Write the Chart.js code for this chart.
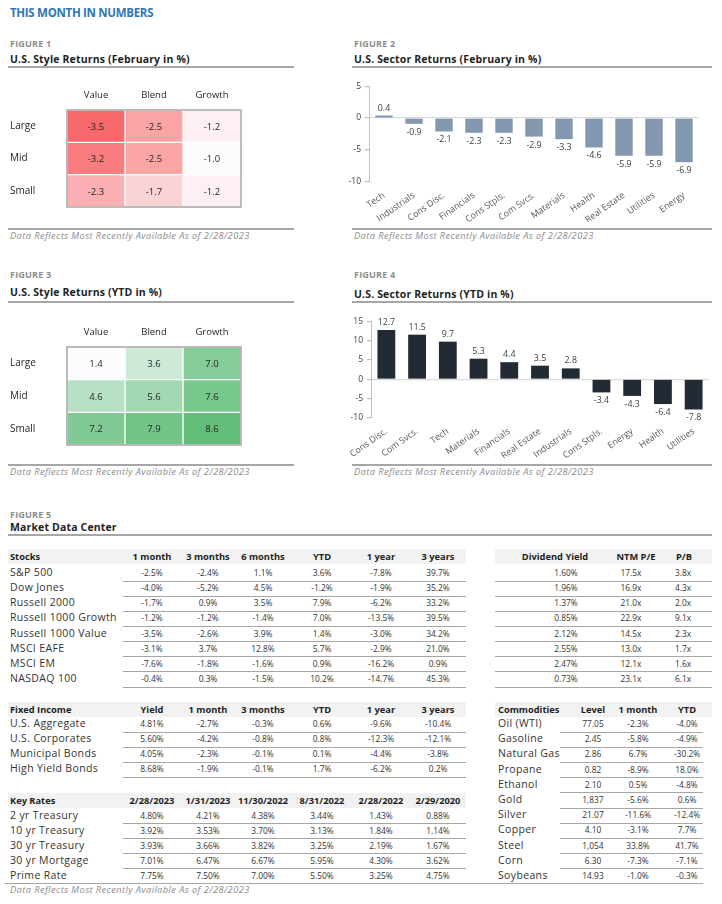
<!DOCTYPE html>
<html>
<head>
<meta charset="utf-8">
<script src="https://cdn.jsdelivr.net/npm/chart.js@4.4.0/dist/chart.umd.min.js"></script>
<style>
  body { margin:0; width:722px; height:904px; background:#fff; position:relative; overflow:hidden;
         font-family:'Open Sans', sans-serif; color:#262626; }
  .t { position:absolute; white-space:nowrap; height:20px; line-height:20px; }
  .hr { position:absolute; height:1px; background:#a6a6a6; }
  .band { position:absolute; background:#f2f2f2; }
  .main { color:#2f75b5; font-weight:700; font-size:11.5px; letter-spacing:-0.3px; }
  .fig { color:#8c8c8c; font-weight:700; font-size:9px; letter-spacing:0.2px; }
  .ttl { color:#1f1f1f; font-weight:700; font-size:10.5px; letter-spacing:0.15px; }
  .foot { color:#8c8c8c; font-style:italic; font-size:9.3px; letter-spacing:0.4px; }
  .lbl { font-size:10.5px; color:#333; letter-spacing:0.35px; }
  .num { font-size:8.4px; color:#333; }
  .hd { font-size:9.3px; font-weight:700; color:#1f1f1f; }
  canvas { position:absolute; }
</style>
</head>
<body>
<canvas id="fig1" style="left:5px;top:80px;width:245px;height:136px" width="245" height="136"></canvas>
<canvas id="fig2" style="left:345px;top:77px;width:360px;height:145px" width="360" height="145"></canvas>
<canvas id="fig3" style="left:5px;top:317px;width:245px;height:137px" width="245" height="137"></canvas>
<canvas id="fig4" style="left:345px;top:312px;width:370px;height:146px" width="370" height="146"></canvas>
<script>
// ── chart data ──
const styleRows = ['Large', 'Mid', 'Small'];
const styleCols = ['Value', 'Blend', 'Growth'];
const styleFeb = [[-3.5, -2.5, -1.2], [-3.2, -2.5, -1.0], [-2.3, -1.7, -1.2]];
const styleYtd = [[1.4, 3.6, 7.0], [4.6, 5.6, 7.6], [7.2, 7.9, 8.6]];

const sectorFebLabels = ['Tech', 'Industrials', 'Cons Disc.', 'Financials', 'Cons Stpls.', 'Com Svcs.',
                         'Materials', 'Health', 'Real Estate', 'Utilities', 'Energy'];
const sectorFebValues = [0.4, -0.9, -2.1, -2.3, -2.3, -2.9, -3.3, -4.6, -5.9, -5.9, -6.9];
const sectorYtdLabels = ['Cons Disc.', 'Com Svcs.', 'Tech', 'Materials', 'Financials', 'Real Estate',
                         'Industrials', 'Cons Stpls.', 'Energy', 'Health', 'Utilities'];
const sectorYtdValues = [12.7, 11.5, 9.7, 5.3, 4.4, 3.5, 2.8, -3.4, -4.3, -6.4, -7.8];

// ── table data ──
const stockCols = ['1 month', '3 months', '6 months', 'YTD', '1 year', '3 years'];
const stockNames = ['S&P 500', 'Dow Jones', 'Russell 2000', 'Russell 1000 Growth', 'Russell 1000 Value',
                    'MSCI EAFE', 'MSCI EM', 'NASDAQ 100'];
const stockRets = [
  ['-2.5%', '-2.4%', '1.1%', '3.6%', '-7.8%', '39.7%'],
  ['-4.0%', '-5.2%', '4.5%', '-1.2%', '-1.9%', '35.2%'],
  ['-1.7%', '0.9%', '3.5%', '7.9%', '-6.2%', '33.2%'],
  ['-1.2%', '-1.2%', '-1.4%', '7.0%', '-13.5%', '39.5%'],
  ['-3.5%', '-2.6%', '3.9%', '1.4%', '-3.0%', '34.2%'],
  ['-3.1%', '3.7%', '12.8%', '5.7%', '-2.9%', '21.0%'],
  ['-7.6%', '-1.8%', '-1.6%', '0.9%', '-16.2%', '0.9%'],
  ['-0.4%', '0.3%', '-1.5%', '10.2%', '-14.7%', '45.3%'],
];
const valCols = ['Dividend Yield', 'NTM P/E', 'P/B'];
const valData = [
  ['1.60%', '17.5x', '3.8x'], ['1.96%', '16.9x', '4.3x'], ['1.37%', '21.0x', '2.0x'], ['0.85%', '22.9x', '9.1x'],
  ['2.12%', '14.5x', '2.3x'], ['2.55%', '13.0x', '1.7x'], ['2.47%', '12.1x', '1.6x'], ['0.73%', '23.1x', '6.1x'],
];
const fiCols = ['Yield', '1 month', '3 months', 'YTD', '1 year', '3 years'];
const fiNames = ['U.S. Aggregate', 'U.S. Corporates', 'Municipal Bonds', 'High Yield Bonds'];
const fiData = [
  ['4.81%', '-2.7%', '-0.3%', '0.6%', '-9.6%', '-10.4%'],
  ['5.60%', '-4.2%', '-0.8%', '0.8%', '-12.3%', '-12.1%'],
  ['4.05%', '-2.3%', '-0.1%', '0.1%', '-4.4%', '-3.8%'],
  ['8.68%', '-1.9%', '-0.1%', '1.7%', '-6.2%', '0.2%'],
];
const rateCols = ['2/28/2023', '1/31/2023', '11/30/2022', '8/31/2022', '2/28/2022', '2/29/2020'];
const rateNames = ['2 yr Treasury', '10 yr Treasury', '30 yr Treasury', '30 yr Mortgage', 'Prime Rate'];
const rateData = [
  ['4.80%', '4.21%', '4.38%', '3.44%', '1.43%', '0.88%'],
  ['3.92%', '3.53%', '3.70%', '3.13%', '1.84%', '1.14%'],
  ['3.93%', '3.66%', '3.82%', '3.25%', '2.19%', '1.67%'],
  ['7.01%', '6.47%', '6.67%', '5.95%', '4.30%', '3.62%'],
  ['7.75%', '7.50%', '7.00%', '5.50%', '3.25%', '4.75%'],
];
const comCols = ['Level', '1 month', 'YTD'];
const comNames = ['Oil (WTI)', 'Gasoline', 'Natural Gas', 'Propane', 'Ethanol', 'Gold', 'Silver',
                  'Copper', 'Steel', 'Corn', 'Soybeans'];
const comData = [
  ['77.05', '-2.3%', '-4.0%'], ['2.45', '-5.8%', '-4.9%'], ['2.86', '6.7%', '-30.2%'], ['0.82', '-8.9%', '18.0%'],
  ['2.10', '0.5%', '-4.8%'], ['1,837', '-5.6%', '0.6%'], ['21.07', '-11.6%', '-12.4%'], ['4.10', '-3.1%', '7.7%'],
  ['1,054', '33.8%', '41.7%'], ['6.30', '-7.3%', '-7.1%'], ['14.93', '-1.0%', '-0.3%'],
];
const footNote = 'Data Reflects Most Recently Available As of 2/28/2023';

// ── html helpers ──
function txt(x, y, s, cls, align = 'left') {
  const d = document.createElement('div');
  d.className = 't ' + cls;
  d.textContent = s;
  d.style.top = (y - 10) + 'px';
  if (align === 'center') { d.style.left = (x - 100) + 'px'; d.style.width = '200px'; d.style.textAlign = 'center'; }
  else d.style.left = x + 'px';
  document.body.appendChild(d);
}
function line(x1, x2, y, h = 1) {
  const d = document.createElement('div');
  d.className = 'hr';
  Object.assign(d.style, { left: x1 + 'px', width: (x2 - x1) + 'px', top: y + 'px', height: h + 'px' });
  document.body.appendChild(d);
}
function band(x1, x2, y1, y2) {
  const d = document.createElement('div');
  d.className = 'band';
  Object.assign(d.style, { left: x1 + 'px', width: (x2 - x1) + 'px', top: y1 + 'px', height: (y2 - y1) + 'px' });
  document.body.appendChild(d);
}

// headings
txt(10, 13, 'THIS MONTH IN NUMBERS', 'main');
txt(10, 44, 'FIGURE 1', 'fig');
txt(10, 59, 'U.S. Style Returns (February in %)', 'ttl');
line(8, 294, 66, 1.5);
txt(354, 44, 'FIGURE 2', 'fig');
txt(354, 59, 'U.S. Sector Returns (February in %)', 'ttl');
line(352, 712, 66, 1.5);
line(8, 294, 228, 1.5); txt(10, 236, footNote, 'foot');
line(352, 712, 228, 1.5); txt(354, 236, footNote, 'foot');

txt(10, 275, 'FIGURE 3', 'fig');
txt(10, 292, 'U.S. Style Returns (YTD in %)', 'ttl');
line(8, 294, 301, 1.5);
txt(354, 275, 'FIGURE 4', 'fig');
txt(354, 294, 'U.S. Sector Returns (YTD in %)', 'ttl');
line(352, 712, 301, 1.5);
line(8, 294, 464, 1.5); txt(10, 472, footNote, 'foot');
line(352, 712, 464, 1.5); txt(354, 472, footNote, 'foot');

txt(10, 515, 'FIGURE 5', 'fig');
txt(10, 527, 'Market Data Center', 'ttl');
line(8, 712, 534, 1.5);

// tables
const leftX = [152, 208, 263, 322, 381, 438];
const ROW = 15.15;
function leftTable(title, cols, names, data, yHead, yFirst, lastFull) {
  band(8, 466, yHead - 8, yHead + 7);
  txt(10, yHead, title, 'hd');
  cols.forEach((c, i) => txt(leftX[i], yHead, c, 'hd', 'center'));
  names.forEach((n, r) => {
    const y = yFirst + r * ROW;
    txt(10, y, n, 'lbl');
    data[r].forEach((v, i) => txt(leftX[i], y + 1, v, 'num', 'center'));
    if (!(lastFull && r === names.length - 1)) line(123, 466, y + 8.5);
  });
}
leftTable('Stocks', stockCols, stockNames, stockRets, 557, 572, false);
leftTable('Fixed Income', fiCols, fiNames, fiData, 710, 723, false);
leftTable('Key Rates', rateCols, rateNames, rateData, 801, 814.5, true);
line(5, 703, 883);
txt(10, 890, footNote, 'foot');

// valuation table
band(495, 712, 549, 564);
const valHeadX = [555, 636, 684], valX = [566, 631, 683];
valCols.forEach((c, i) => txt(valHeadX[i], 557, c, 'hd', 'center'));
valData.forEach((row, r) => {
  const y = 572 + r * ROW;
  row.forEach((v, i) => txt(valX[i], y + 1, v, 'num', 'center'));
  line(495, 712, y + 8.5);
});

// commodities
band(495, 712, 702, 717);
txt(498, 710, 'Commodities', 'hd');
const comX = [593, 638, 687];
comCols.forEach((c, i) => txt(comX[i], 710, c, 'hd', 'center'));
comNames.forEach((n, r) => {
  const y = 723 + r * 15.2;
  txt(498, y, n, 'lbl');
  comData[r].forEach((v, i) => txt(comX[i], y + 1, v, 'num', 'center'));
  if (r < comNames.length - 1) line(560, 703, y + 8.5);
});

// ── charts ──
Chart.defaults.font.family = "'Open Sans', sans-serif";
Chart.defaults.color = '#404040';
Chart.defaults.animation = false;
Chart.defaults.responsive = false;

function mix(c1, c2, t) {
  const a = c1.match(/\w\w/g).map(h => parseInt(h, 16));
  const b = c2.match(/\w\w/g).map(h => parseInt(h, 16));
  return `rgb(${a.map((v, i) => Math.round(v + (b[i] - v) * t)).join(',')})`;
}

function heatmap(id, values, loColor, hiColor) {
  const flat = values.flat();
  const lo = Math.min(...flat), hi = Math.max(...flat);
  new Chart(document.getElementById(id), {
    type: 'bar',
    data: {
      labels: styleRows,
      datasets: styleCols.map((c, ci) => ({
        label: c,
        data: styleRows.map(() => [ci, ci + 1]),
        backgroundColor: styleRows.map((r, ri) => mix(loColor, hiColor, (values[ri][ci] - lo) / (hi - lo))),
        borderColor: '#ffffff',
        borderWidth: 1,
        borderSkipped: false,
        barPercentage: 1,
        categoryPercentage: 1,
        grouped: false,
      })),
    },
    options: {
      indexAxis: 'y',
      layout: { padding: { left: 5, top: 2, right: 9, bottom: 2 } },
      plugins: { legend: { display: false }, tooltip: { enabled: false } },
      scales: {
        x: { type: 'linear', min: 0, max: 3, display: false },
        x2: {
          type: 'category', labels: styleCols, position: 'top', offset: true,
          grid: { display: false, drawTicks: false }, border: { display: false },
          ticks: { padding: 9, color: '#262626', font: { size: 9.5 } },
          afterFit: s => { s.height = 28; },
        },
        y: {
          grid: { display: false, drawTicks: false }, border: { display: false },
          ticks: { crossAlign: 'far', color: '#262626', font: { size: 10 } },
          afterFit: s => { s.width = 57; },
        },
      },
    },
    plugins: [{
      id: 'cells',
      afterDatasetsDraw(chart) {
        const ctx = chart.ctx, a = chart.chartArea;
        ctx.save();
        ctx.font = "9.5px 'Open Sans'";
        ctx.fillStyle = '#262626';
        ctx.textAlign = 'center';
        ctx.textBaseline = 'middle';
        chart.data.datasets.forEach((ds, ci) => {
          chart.getDatasetMeta(ci).data.forEach((el, ri) => {
            const p = el.getCenterPoint();
            ctx.fillText(values[ri][ci].toFixed(1), p.x, p.y + 1);
          });
        });
        ctx.strokeStyle = '#a6a6a6';
        ctx.lineWidth = 1.5;
        ctx.strokeRect(a.left, a.top, a.right - a.left, a.bottom - a.top);
        ctx.restore();
      },
    }],
  });
}

function sectorChart(id, labels, values, color, min, max, yWidth, padTop) {
  new Chart(document.getElementById(id), {
    type: 'bar',
    data: { labels, datasets: [{ data: values, backgroundColor: color, barPercentage: 0.58, categoryPercentage: 1 }] },
    options: {
      layout: { padding: { top: padTop, right: 6, left: 0, bottom: 0 } },
      plugins: { legend: { display: false }, tooltip: { enabled: false } },
      scales: {
        x: {
          grid: { display: false }, border: { display: false },
          ticks: { maxRotation: 35, minRotation: 35, color: '#595959', font: { size: 9 }, padding: 0 },
          afterFit: s => { s.height = 40; },
        },
        y: {
          min, max,
          ticks: { stepSize: 5, color: '#404040', font: { size: 8.5 }, padding: 4 },
          grid: {
            color: c => (c.tick && c.tick.value === 0 ? '#d9d9d9' : 'rgba(0,0,0,0)'),
            tickColor: '#bfbfbf', tickLength: 4, lineWidth: 1.2,
          },
          border: { display: true, color: '#bfbfbf' },
          afterFit: s => { s.width = yWidth; },
        },
      },
    },
    plugins: [{
      id: 'valueLabels',
      afterDatasetsDraw(chart) {
        const ctx = chart.ctx;
        ctx.save();
        ctx.font = "8.8px 'Open Sans'";
        ctx.fillStyle = '#404040';
        ctx.textAlign = 'center';
        chart.getDatasetMeta(0).data.forEach((el, i) => {
          const v = values[i];
          if (v >= 0) { ctx.textBaseline = 'bottom'; ctx.fillText(v.toFixed(1), el.x, el.y - 3); }
          else { ctx.textBaseline = 'top'; ctx.fillText(v.toFixed(1), el.x, el.y + 4); }
        });
        ctx.restore();
      },
    }],
  });
}

heatmap('fig1', styleFeb, 'f8696b', 'fcfcff');
heatmap('fig3', styleYtd, 'fcfcff', '63be7b');
sectorChart('fig2', sectorFebLabels, sectorFebValues, '#8497b0', -10, 5, 24, 6);
sectorChart('fig4', sectorYtdLabels, sectorYtdValues, '#222a35', -10, 15, 26, 9);
</script>
</body>
</html>
